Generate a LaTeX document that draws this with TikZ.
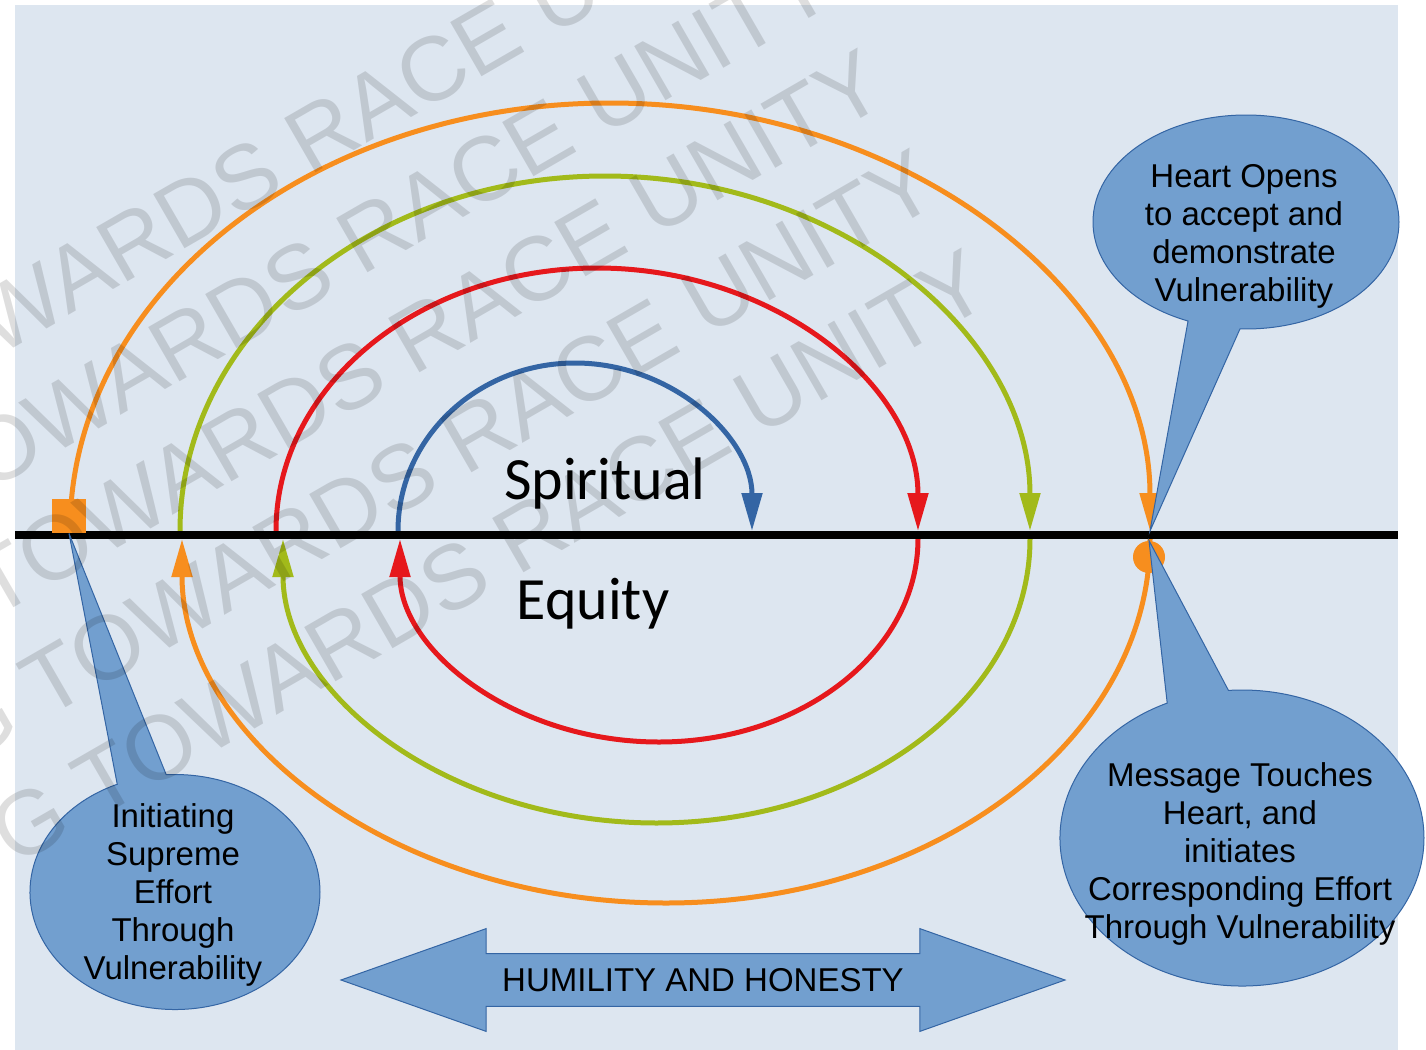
\documentclass[tikz,border=0pt]{standalone}
\usepackage{fontspec}
\setmainfont{Liberation Sans}
\newfontfamily\calibri{Carlito}
\usepackage{tikz}
\usetikzlibrary{arrows.meta,shapes.callouts,shapes.arrows}

\definecolor{bgblue}{RGB}{221,230,240}
\definecolor{arcorange}{RGB}{247,142,30}
\definecolor{arcgreen}{RGB}{162,186,26}
\definecolor{arcred}{RGB}{230,24,28}
\definecolor{arcblue}{RGB}{52,101,164}
\definecolor{boxblue}{RGB}{114,159,207}
\definecolor{boxline}{RGB}{52,101,164}

\begin{document}
\begin{tikzpicture}[x=0.5pt,y=-0.5pt,
  bubble/.style={ellipse callout,fill=boxblue,draw=boxline,line width=0.5pt,
    callout pointer arc=20,inner sep=0pt},
  bubbletext/.style={align=center,font=\fontsize{16.5}{19}\selectfont},
  bigword/.style={font=\calibri\fontsize{30}{36}\selectfont},
  stamp/.style={anchor=base west,rotate=30,text=black,text opacity=0.13,
    font=\fontsize{45.5}{50}\selectfont}]
\useasboundingbox (0,0) rectangle (1426,1050);
\fill[bgblue] (15,5) rectangle (1398,1050);

\begin{scope}[line width=2.5pt,-{Triangle[length=19pt,width=10pt]}]
    \draw[arcorange] (70,531) arc[start angle=180,end angle=360,x radius=540,y radius=428];
    \draw[arcorange] (1150,539) arc[start angle=0,end angle=180,x radius=484,y radius=364];
    \draw[arcgreen] (180,531) arc[start angle=180,end angle=360,x radius=425,y radius=355];
    \draw[arcgreen] (1030,539) arc[start angle=0,end angle=180,x radius=373.5,y radius=284];
    \draw[arcred] (276,531) arc[start angle=180,end angle=360,x radius=321,y radius=263];
    \draw[arcred] (918,539) arc[start angle=0,end angle=180,x radius=259,y radius=203];
    \draw[arcblue] (398,531) arc[start angle=180,end angle=360,x radius=177,y radius=168];
\end{scope}

\draw[line width=4pt] (15,535) -- (1398,535);

\node[fill=arcorange,minimum size=17pt,inner sep=0pt] (start) at (69,516) {};
\node[circle,fill=arcorange,minimum size=16pt,inner sep=0pt] (touch) at (1149,557) {};
\coordinate (tipup) at (1150,531);

\node[bigword] (spiritual) at (605,483) {Spiritual};
\node[bigword] (equity) at (593,604) {Equity};

\node[bubble,minimum width=153pt,minimum height=107pt,
    callout absolute pointer={(tipup)}] (heart) at (1246,222) {};
\node[bubbletext] (hearttext) at (1244,236) {Heart Opens\\to accept and\\demonstrate\\Vulnerability};

\node[bubble,minimum width=182pt,minimum height=148pt,
    callout absolute pointer={(touch.north)}] (message) at (1242,838) {};
\node[bubbletext] (messagetext) at (1240,854) {Message Touches\\Heart, and\\initiates\\Corresponding Effort\\Through Vulnerability};

\node[bubble,minimum width=145pt,minimum height=117.5pt,
    callout absolute pointer={(start.south)}] (initiating) at (175,892) {};
\node[bubbletext] (initiatingtext) at (173,895) {Initiating\\Supreme\\Effort\\Through\\Vulnerability};

\node[double arrow,fill=boxblue,draw=boxline,line width=0.5pt,
    double arrow tip angle=39,double arrow head extend=12.5pt,
    minimum height=362pt,inner xsep=0pt,inner ysep=7.1pt,
    font=\fontsize{16.5}{19}\selectfont] (humility) at (703,980) {HUMILITY AND HONESTY};

\foreach \x/\y in {-200/471,-148/571,-96/671,-44/771,8/871}
    \node[stamp] at (\x,\y) {G TOWARDS RACE UNITY};
\end{tikzpicture}
\end{document}
